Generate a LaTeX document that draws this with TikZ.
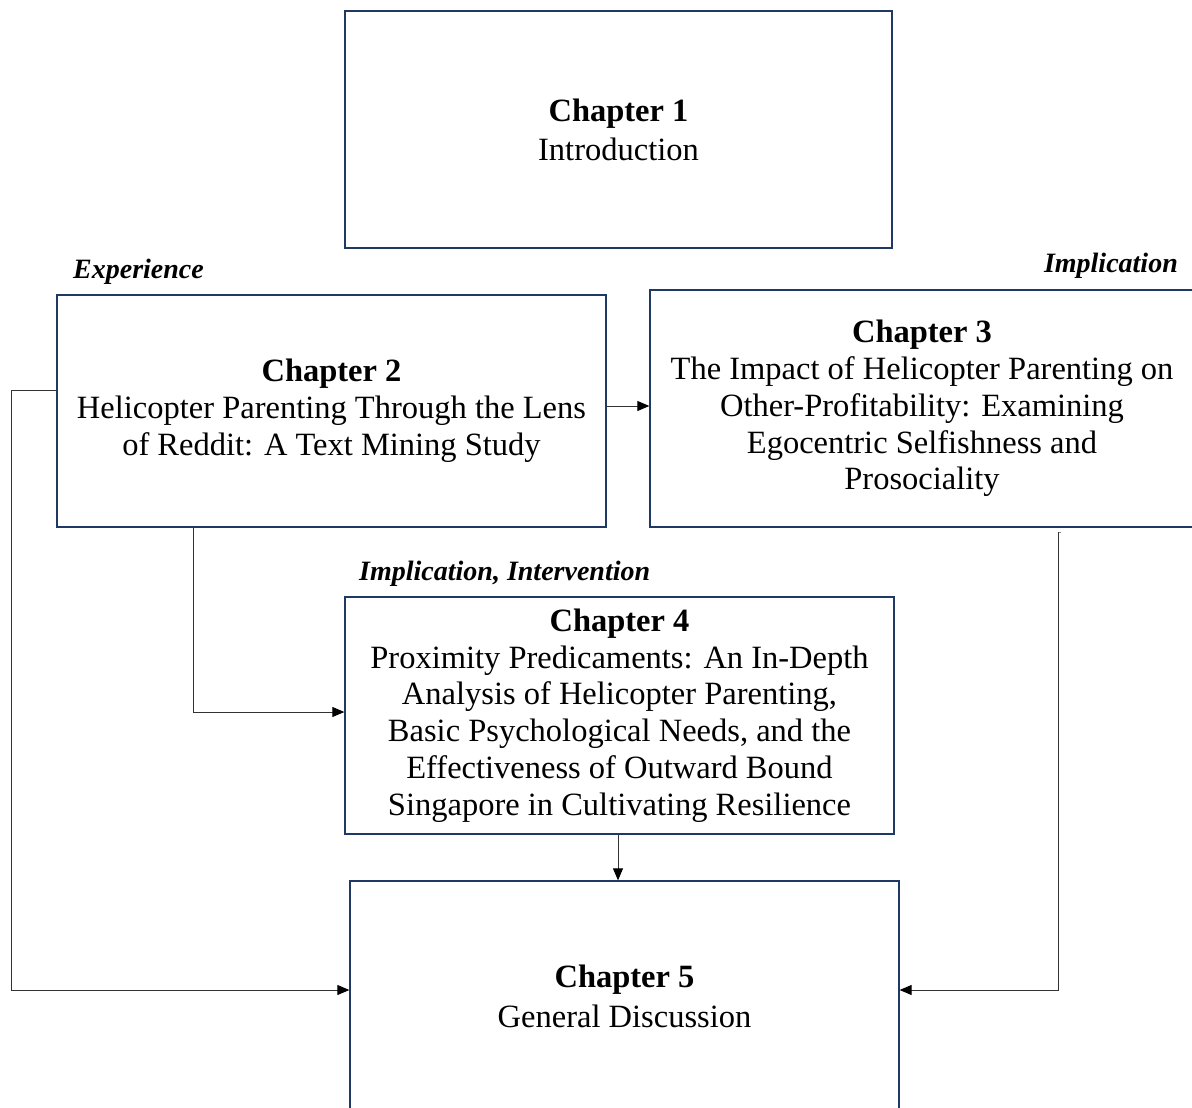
\documentclass[tikz,border=0pt]{standalone}
\usepackage{fontspec}
\setmainfont{Liberation Serif}
\usetikzlibrary{arrows.meta}
\definecolor{navy}{HTML}{1F3864}
\begin{document}
\begin{tikzpicture}[x=1pt,y=-1pt,
  box/.style={draw=navy, line width=1.3pt, align=center, inner sep=0pt,
    font=\fontsize{32.5}{36.8}\selectfont},
  conn/.style={draw=black!80, line width=0.9pt, -{Triangle[length=12pt,width=10pt,color=black]}},
  lbl/.style={font=\fontsize{28}{32}\selectfont\bfseries\itshape, inner sep=0pt}]
\useasboundingbox (0,0) rectangle (1192,1108);
\node[box, minimum width=547pt, minimum height=237pt] (ch1) at (618.5,129.5)
  {\textbf{Chapter 1}\\[2pt]Introduction};
\node[box, minimum width=549pt, minimum height=232pt] (ch2) at (331.5,411)
  {\textbf{Chapter 2}\\Helicopter Parenting Through the Lens\\of Reddit: A Text Mining Study};
\node[box, minimum width=544pt, minimum height=237pt] (ch3) at (922,408.5)
  {\textbf{Chapter 3}\\The Impact of Helicopter Parenting on\\Other-Profitability: Examining\\Egocentric Selfishness and\\Prosociality};
\node[box, minimum width=549pt, minimum height=237pt] (ch4) at (619.5,715.5)
  {\textbf{Chapter 4}\\Proximity Predicaments: An In-Depth\\Analysis of Helicopter Parenting,\\Basic Psychological Needs, and the\\Effectiveness of Outward Bound\\Singapore in Cultivating Resilience};
\node[box, minimum width=549pt, minimum height=230pt] (ch5) at (624.5,996)
  {\textbf{Chapter 5}\\[3pt]General Discussion};
\node[lbl, anchor=base west] (l2) at (73,278) {Experience};
\node[lbl, anchor=base east] (l3) at (1178,272) {Implication};
\node[lbl, anchor=base west] (l4) at (359,580) {Implication, Intervention};
% connectors
\draw[conn] (ch2.east |- 0,406) -- (ch3.west |- 0,406);
\draw[conn] ([yshift=21pt]ch2.west) -- (11,390) |- ([yshift=6pt]ch5.west);
\draw[conn] (ch2.south -| 193,0) |- ([yshift=3.5pt]ch4.west);
\coordinate (c3) at (1058,532);
\draw[draw=black!45, line width=0.6pt] (c3) -- ++(3,0);
\draw[conn] (c3) |- ([yshift=6pt]ch5.east);
\draw[conn] (ch4.south -| 618,0) -- (ch5.north -| 618,0);
\end{tikzpicture}
\end{document}
